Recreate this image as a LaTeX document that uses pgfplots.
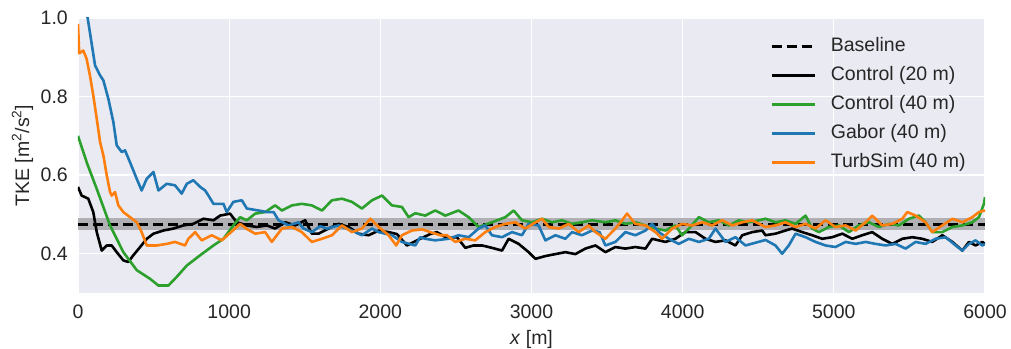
\documentclass[border=0pt]{standalone}
\usepackage{fontspec}
\setmainfont{Liberation Sans}
\usepackage{pgfplots}
\pgfplotsset{compat=1.18}
\usetikzlibrary{calc}
\definecolor{bgc}{RGB}{234,234,242}
\definecolor{tabblue}{RGB}{31,119,180}
\definecolor{taborange}{RGB}{255,127,14}
\definecolor{tabgreen}{RGB}{44,160,44}
\definecolor{bandc}{RGB}{176,176,180}
\definecolor{txt}{RGB}{38,38,38}
\begin{document}
\fontsize{19.5}{23}\selectfont
\begin{tikzpicture}
\begin{axis}[
  scale only axis, width=907pt, height=275pt,
  xmin=0, xmax=6000, ymin=0.3, ymax=1.0,
  axis background/.style={fill=bgc},
  axis line style={draw=none},
  major tick length=0pt,
  grid=major, major grid style={white, line width=1.3pt},
  xtick={0,1000,...,6000}, ytick={0.4,0.6,0.8,1.0},
  /pgf/number format/assume math mode=true,
  every tick label/.append style={text=txt},
  xticklabel style={/pgf/number format/1000 sep={}, inner sep=0pt, anchor=north, yshift=-12pt},
  yticklabel style={/pgf/number format/.cd, fixed, fixed zerofill, precision=1, /tikz/.cd, inner sep=0pt, anchor=east, xshift=-10pt},
  xlabel={\textit{x} [m]},
  ylabel={TKE [m\textsuperscript{2}/s\textsuperscript{2}]},
  xlabel style={at={(rel axis cs:0.5,-0.1855)}, anchor=base, inner sep=0pt, text=txt},
  ylabel style={at={(rel axis cs:-0.054,0.5)}, anchor=base, inner sep=0pt, text=txt},
  legend style={draw=none, fill=none, text=txt, at={(rel axis cs:0.763,0.931)}, anchor=north west, inner sep=0pt, row sep=10pt, nodes={inner sep=0pt, text height=14pt, text depth=5pt}},
  legend cell align=left,
  legend image code/.code={\draw[#1] (0pt,0pt) -- (43pt,0pt); \path (58pt,0pt);},
  every axis plot/.append style={line join=round},
]
\coordinate (ll) at (rel axis cs:0,0);
\coordinate (ur) at (rel axis cs:1,1);
\addplot[draw=none, fill=bandc, forget plot] coordinates {(0,0.46) (6000,0.46) (6000,0.49) (0,0.49)} -- cycle;
\addplot[black, line width=2.6pt, dash pattern=on 10pt off 5pt] coordinates {(0,0.475) (6000,0.475)};
\addlegendentry{Baseline}
\addplot[black, line width=2.6pt] coordinates {
(0,0.57) (24,0.548) (68,0.54) (101,0.506) (124,0.455) (157,0.408) (190,0.421) (223,0.421) (256,0.404) (300,0.383)
(333,0.379) (366,0.396) (411,0.417) (455,0.438) (499,0.451) (565,0.459) (631,0.464) (697,0.472) (763,0.476) (830,0.489)
(896,0.485) (940,0.497) (1006,0.502) (1050,0.48) (1117,0.472) (1183,0.468) (1249,0.472) (1304,0.464) (1371,0.48) (1437,0.472)
(1503,0.485) (1547,0.451) (1591,0.451) (1658,0.464) (1724,0.476) (1790,0.468) (1856,0.451) (1923,0.447) (1989,0.459) (2055,0.455)
(2110,0.45) (2176,0.421) (2264,0.438) (2330,0.45) (2374,0.455) (2441,0.44) (2507,0.442) (2562,0.415) (2617,0.421) (2673,0.421)
(2738,0.415) (2805,0.408) (2849,0.438) (2915,0.425) (2981,0.404) (3026,0.387) (3092,0.394) (3158,0.399) (3224,0.404) (3290,0.399)
(3356,0.413) (3423,0.421) (3489,0.404) (3555,0.417) (3621,0.413) (3687,0.417) (3754,0.413) (3798,0.438) (3842,0.434) (3886,0.43)
(3952,0.438) (4018,0.455) (4085,0.455) (4151,0.438) (4217,0.43) (4283,0.434) (4349,0.421) (4394,0.447) (4460,0.455) (4526,0.459)
(4548,0.447) (4614,0.451) (4680,0.459) (4724,0.464) (4791,0.455) (4857,0.447) (4923,0.438) (4989,0.442) (5056,0.451) (5122,0.438)
(5188,0.447) (5254,0.455) (5320,0.438) (5387,0.425) (5453,0.438) (5519,0.442) (5585,0.438) (5651,0.43) (5718,0.447) (5784,0.43)
(5850,0.408) (5894,0.43) (5938,0.421) (5982,0.43) (6000,0.425)};
\addlegendentry{Control (20 m)}
\addplot[tabgreen, line width=2.6pt] coordinates {
(0,0.70) (60,0.63) (124,0.565) (212,0.472) (300,0.404) (389,0.358) (477,0.336) (532,0.319) (598,0.319) (653,0.341)
(720,0.37) (808,0.396) (896,0.421) (962,0.438) (1028,0.472) (1072,0.493) (1117,0.485) (1172,0.502) (1238,0.506) (1304,0.523)
(1349,0.51) (1415,0.523) (1481,0.527) (1547,0.523) (1614,0.51) (1680,0.536) (1746,0.54) (1812,0.532) (1878,0.515) (1945,0.536)
(2011,0.548) (2077,0.523) (2143,0.519) (2187,0.493) (2231,0.503) (2297,0.497) (2363,0.51) (2430,0.497) (2517,0.51) (2584,0.493)
(2650,0.468) (2738,0.48) (2827,0.493) (2882,0.51) (2937,0.485) (3003,0.48) (3070,0.489) (3136,0.48) (3202,0.485) (3268,0.476)
(3334,0.48) (3400,0.485) (3489,0.48) (3555,0.485) (3621,0.476) (3687,0.48) (3754,0.472) (3820,0.464) (3886,0.459) (3952,0.472)
(3996,0.447) (4041,0.464) (4107,0.493) (4173,0.48) (4240,0.485) (4306,0.472) (4372,0.485) (4438,0.48) (4504,0.485) (4548,0.489)
(4614,0.48) (4680,0.485) (4747,0.476) (4813,0.497) (4857,0.464) (4901,0.455) (4967,0.468) (5034,0.472) (5100,0.455) (5166,0.472)
(5232,0.48) (5298,0.468) (5364,0.476) (5431,0.472) (5497,0.489) (5563,0.497) (5607,0.48) (5651,0.455) (5718,0.455) (5784,0.468)
(5850,0.472) (5916,0.48) (5960,0.493) (5993,0.527) (6000,0.544)};
\addlegendentry{Control (40 m)}
\addplot[tabblue, line width=2.6pt] coordinates {
(0,1.03) (30,1.03) (64,1.0) (113,0.879) (146,0.854) (168,0.841) (201,0.794) (234,0.735) (256,0.676) (289,0.659)
(311,0.663) (344,0.633) (388,0.591) (421,0.561) (455,0.591) (499,0.608) (532,0.561) (587,0.578) (642,0.574) (686,0.553)
(720,0.578) (763,0.587) (808,0.57) (841,0.561) (863,0.548) (896,0.527) (962,0.527) (984,0.506) (1028,0.532) (1084,0.536)
(1117,0.515) (1194,0.51) (1249,0.506) (1294,0.506) (1327,0.485) (1393,0.472) (1459,0.48) (1492,0.464) (1547,0.455) (1602,0.47)
(1647,0.464) (1724,0.472) (1812,0.459) (1878,0.447) (1945,0.464) (1989,0.455) (2077,0.447) (2143,0.43) (2231,0.421) (2264,0.442)
(2297,0.438) (2363,0.434) (2451,0.438) (2517,0.447) (2584,0.442) (2650,0.464) (2694,0.472) (2738,0.447) (2805,0.442) (2871,0.455)
(2937,0.447) (2981,0.476) (3047,0.472) (3092,0.434) (3158,0.447) (3224,0.438) (3268,0.455) (3334,0.447) (3400,0.459) (3450,0.455)
(3489,0.421) (3555,0.43) (3621,0.455) (3687,0.447) (3754,0.459) (3798,0.476) (3842,0.455) (3908,0.438) (3974,0.425) (4041,0.438)
(4107,0.43) (4173,0.438) (4217,0.464) (4283,0.43) (4349,0.442) (4416,0.421) (4482,0.428) (4548,0.435) (4614,0.421) (4658,0.40)
(4702,0.421) (4747,0.451) (4813,0.442) (4879,0.43) (4945,0.421) (5011,0.417) (5078,0.43) (5144,0.425) (5210,0.43) (5276,0.425)
(5342,0.421) (5409,0.425) (5475,0.413) (5541,0.43) (5607,0.425) (5673,0.438) (5740,0.442) (5806,0.421) (5850,0.408) (5894,0.425)
(5938,0.434) (5982,0.421) (6000,0.425)};
\addlegendentry{Gabor (40 m)}
\addplot[taborange, line width=2.6pt] coordinates {
(0,0.985) (8,0.91) (35,0.917) (57,0.896) (79,0.854) (101,0.803) (124,0.744) (146,0.684) (168,0.65) (190,0.60)
(212,0.557) (223,0.548) (245,0.557) (267,0.523) (300,0.506) (344,0.493) (389,0.48) (421,0.455) (455,0.421) (521,0.421)
(587,0.425) (642,0.43) (708,0.421) (730,0.438) (775,0.455) (818,0.434) (885,0.447) (951,0.434) (1039,0.464) (1072,0.476)
(1117,0.463) (1172,0.451) (1238,0.455) (1282,0.43) (1349,0.464) (1415,0.468) (1481,0.455) (1547,0.43) (1614,0.438) (1680,0.447)
(1746,0.472) (1812,0.455) (1878,0.464) (1934,0.489) (1989,0.468) (2055,0.447) (2105,0.421) (2143,0.447) (2209,0.459) (2276,0.462)
(2330,0.455) (2397,0.447) (2440,0.447) (2496,0.43) (2562,0.438) (2628,0.434) (2694,0.455) (2761,0.468) (2827,0.476) (2893,0.48)
(2959,0.464) (3026,0.48) (3070,0.489) (3114,0.468) (3180,0.464) (3246,0.476) (3312,0.455) (3378,0.472) (3423,0.455) (3489,0.438)
(3555,0.464) (3599,0.485) (3632,0.502) (3687,0.476) (3754,0.472) (3820,0.455) (3864,0.438) (3930,0.464) (3996,0.476) (4063,0.472)
(4129,0.48) (4195,0.472) (4261,0.485) (4328,0.472) (4394,0.48) (4460,0.485) (4548,0.468) (4614,0.472) (4680,0.48) (4747,0.468)
(4813,0.476) (4879,0.464) (4945,0.485) (5011,0.468) (5078,0.472) (5144,0.459) (5210,0.48) (5254,0.497) (5320,0.472) (5387,0.476)
(5453,0.489) (5486,0.506) (5541,0.497) (5607,0.48) (5651,0.455) (5718,0.472) (5784,0.489) (5850,0.48) (5916,0.493) (5960,0.506)
(6000,0.51)};
\addlegendentry{TurbSim (40 m)}
\end{axis}
\pgfresetboundingbox
\path ($(ll)+(-78pt,-56pt)$) rectangle ($(ur)+(26pt,18pt)$);
\end{tikzpicture}
\end{document}
